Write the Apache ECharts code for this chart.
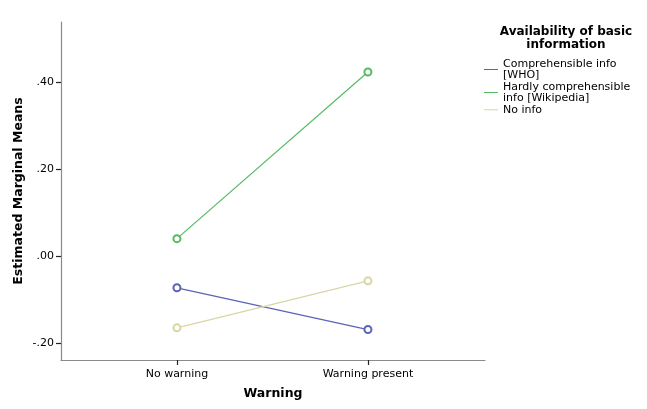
<!DOCTYPE html>
<html>
<head>
<meta charset="utf-8">
<script src="https://cdn.jsdelivr.net/npm/echarts@6/dist/echarts.min.js"></script>
<style>
  html, body { margin: 0; padding: 0; background: #fff; }
  #chart { width: 647px; height: 409px; }
</style>
</head>
<body>
<div id="chart"></div>
<script>
var categories = ['No warning', 'Warning present'];
var seriesNames = ['Comprehensible info\n[WHO]', 'Hardly comprehensible\ninfo [Wikipedia]', 'No info'];
var whoMeans = [-0.073, -0.169];
var wikiMeans = [0.040, 0.423];
var noInfoMeans = [-0.165, -0.057];
var yTicks = [-0.2, 0, 0.2, 0.4];
var colors = ['#5b63b6', '#55bb62', '#d9d6a4'];

var font = 'DejaVu Sans';

function fmtY(v) {
    var s = Math.abs(v).toFixed(2).replace(/^0/, '');
    return (v < 0 ? '-' : '') + s;
}

function toPoints(vals) {
    return vals.map(function(v, i) { return [i, v]; });
}

var chart = echarts.init(document.getElementById('chart'));

var allSeries = [whoMeans, wikiMeans, noInfoMeans].map(function(vals, i) {
    return {
        name: seriesNames[i],
        type: 'line',
        data: toPoints(vals),
        symbol: 'emptyCircle',
        symbolSize: 7,
        lineStyle: { width: 1.2, color: colors[i] },
        itemStyle: { color: colors[i], borderWidth: 1 },
        emphasis: { disabled: true },
        animation: false
    };
});

chart.setOption({
    animation: false,
    textStyle: { fontFamily: font },
    grid: { left: 61, top: 22, right: 162, bottom: 49 },
    title: {
        text: 'Availability of basic\ninformation',
        left: 566,
        top: 25,
        textAlign: 'center',
        padding: 0,
        textStyle: { fontSize: 12, fontWeight: 'bold', color: '#000', lineHeight: 13, fontFamily: font }
    },
    legend: {
        orient: 'vertical',
        left: 484,
        top: 58,
        padding: 0,
        itemGap: 0,
        itemWidth: 14,
        itemHeight: 1,
        icon: 'rect',
        data: seriesNames.map(function(n, i) {
            return { name: n, itemStyle: { color: colors[i] } };
        }),
        textStyle: { fontSize: 11, color: '#000', lineHeight: 11.5 }
    },
    xAxis: {
        type: 'value',
        min: -0.607,
        max: 1.613,
        name: 'Warning',
        nameLocation: 'middle',
        nameGap: 27,
        nameMoveOverlap: false,
        nameTextStyle: { fontWeight: 'bold', fontSize: 12.5, color: '#000' },
        splitLine: { show: false },
        axisLine: { onZero: false, lineStyle: { color: '#8a8a8a', width: 1.2 } },
        axisTick: { show: true, length: 5, customValues: [0, 1], lineStyle: { color: '#222', width: 1.2 } },
        axisLabel: {
            customValues: [0, 1],
            formatter: function(v) { return categories[Math.round(v)]; },
            color: '#000',
            fontSize: 11,
            margin: 9
        }
    },
    yAxis: {
        type: 'value',
        min: -0.239,
        max: 0.538,
        name: 'Estimated Marginal Means',
        nameLocation: 'middle',
        nameGap: 36,
        nameMoveOverlap: false,
        nameTextStyle: { fontWeight: 'bold', fontSize: 12.5, color: '#000' },
        splitLine: { show: false },
        axisLine: { show: true, onZero: false, lineStyle: { color: '#8a8a8a', width: 1.2 } },
        axisTick: { show: true, length: 5, customValues: yTicks, lineStyle: { color: '#222', width: 1.2 } },
        axisLabel: {
            customValues: yTicks,
            formatter: fmtY,
            color: '#000',
            fontSize: 11,
            margin: 7
        }
    },
    series: allSeries
});
</script>
</body>
</html>
